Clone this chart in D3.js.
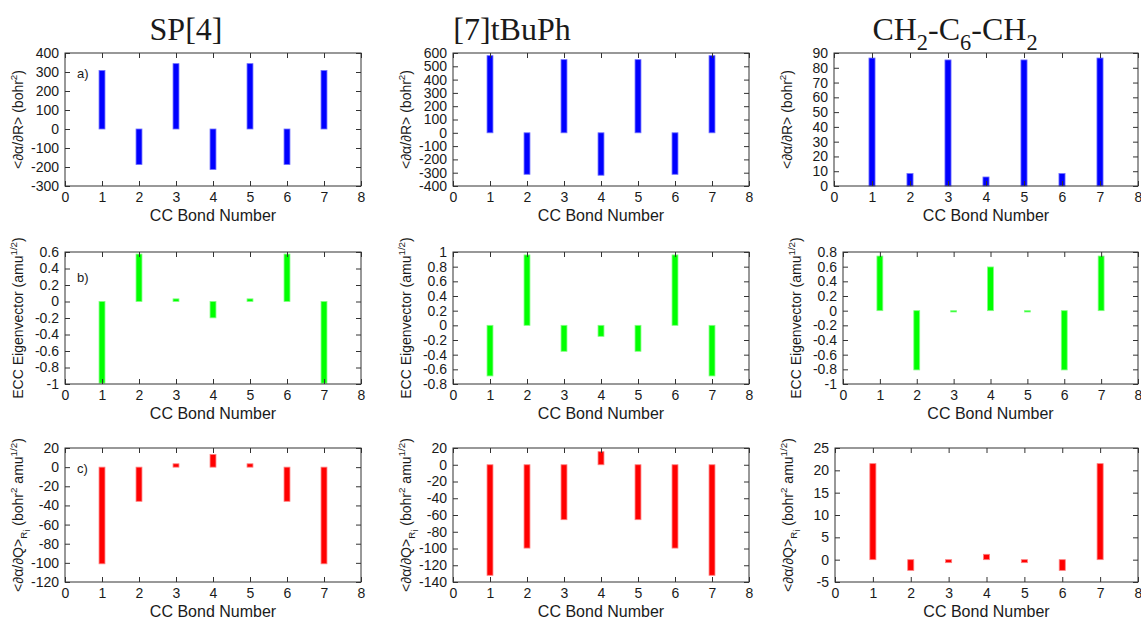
<!DOCTYPE html>
<html>
<head>
<meta charset="utf-8">
<script src="https://cdn.jsdelivr.net/npm/d3@7"></script>
<style>
  body { margin: 0; background: #fff; }
  text { font-family: "Liberation Sans", Arial, sans-serif; fill: #1a1a1a; }
  .title { font-family: "Liberation Serif", "DejaVu Serif", serif; }
</style>
</head>
<body>
<div id="main"></div>
<script>
// bond numbers + x ticks
const bonds = [1, 2, 3, 4, 5, 6, 7];
const xTicks = [0, 1, 2, 3, 4, 5, 6, 7, 8];

// a) polarizability derivative
const sp4Polar = [308, -187, 344, -213, 344, -187, 308];
const tbuPolar = [580, -312, 550, -319, 550, -312, 580];
const ch2Polar = [86.6, 8.4, 85.3, 6.1, 85.3, 8.4, 86.6];
// b) ECC eigenvector
const sp4Eigen = [-0.99, 0.575, 0.032, -0.198, 0.032, 0.575, -0.99];
const tbuEigen = [-0.69, 0.96, -0.354, -0.15, -0.354, 0.96, -0.69];
const ch2Eigen = [0.745, -0.808, -0.018, 0.596, -0.018, -0.808, 0.745];
// c) projected derivative
const sp4Deriv = [-101, -35.7, 3.5, 13.3, 3.5, -35.7, -101];
const tbuDeriv = [-132, -99.5, -65.6, 15.6, -65.6, -99.5, -132];
const ch2Deriv = [21.5, -2.4, -0.67, 1.2, -0.67, -2.4, 21.5];

// y tick labels
const sp4PolarTicks = [-300, -200, -100, 0, 100, 200, 300, 400];
const tbuPolarTicks = [-400, -300, -200, -100, 0, 100, 200, 300, 400, 500, 600];
const ch2PolarTicks = [0, 10, 20, 30, 40, 50, 60, 70, 80, 90];
const sp4EigenTicks = [-1, -0.8, -0.6, -0.4, -0.2, 0, 0.2, 0.4, 0.6];
const tbuEigenTicks = [-0.8, -0.6, -0.4, -0.2, 0, 0.2, 0.4, 0.6, 0.8, 1];
const ch2EigenTicks = [-1, -0.8, -0.6, -0.4, -0.2, 0, 0.2, 0.4, 0.6, 0.8];
const sp4DerivTicks = [-120, -100, -80, -60, -40, -20, 0, 20];
const tbuDerivTicks = [-140, -120, -100, -80, -60, -40, -20, 0, 20];
const ch2DerivTicks = [-5, 0, 5, 10, 15, 20, 25];

const rowColors = ["#0000ff", "#00ff00", "#ff0000"];
const rowEdge = ["#7070ff", "#80ff80", "#ff8080"];
const rowLetters = ["a)", "b)", "c)"];

const W = 1141, H = 619;

// layout (pixel boxes of each plot)
const colLeft = [[65, 453, 834], [65, 453, 843], [65, 453, 835]];
const colRight = [361, 749, 1138];
const rowTop = [53, 252, 448];
const rowBottom = [186, 384, 582];
const titleX = [186, 512, 955];
const letterDy = [25, 30, 25];

const panels = [
  {row: 0, col: 0, values: sp4Polar, ticks: sp4PolarTicks},
  {row: 0, col: 1, values: tbuPolar, ticks: tbuPolarTicks},
  {row: 0, col: 2, values: ch2Polar, ticks: ch2PolarTicks},
  {row: 1, col: 0, values: sp4Eigen, ticks: sp4EigenTicks},
  {row: 1, col: 1, values: tbuEigen, ticks: tbuEigenTicks},
  {row: 1, col: 2, values: ch2Eigen, ticks: ch2EigenTicks},
  {row: 2, col: 0, values: sp4Deriv, ticks: sp4DerivTicks},
  {row: 2, col: 1, values: tbuDeriv, ticks: tbuDerivTicks},
  {row: 2, col: 2, values: ch2Deriv, ticks: ch2DerivTicks}
];

// label pieces: [text, level]  level 1 = sup, -1 = sub, -2 = sub of sub
const yLabels = [
  [["<\u2202\u03b1/\u2202R> (bohr", 0], ["2", 1], [")", 0]],
  [["ECC Eigenvector (amu", 0], ["1/2", 1], [")", 0]],
  [["<\u2202\u03b1/\u2202Q>", 0], ["R", -1], ["i", -2], [" (bohr", 0], ["2", 1], [" amu", 0], ["1/2", 1], [")", 0]]
];
const titleParts = [
  [["SP[4]", 0]],
  [["[7]tBuPh", 0]],
  [["CH", 0], ["2", -1], ["-C", 0], ["6", -1], ["-CH", 0], ["2", -1]]
];

function richText(sel, parts, size) {
  let level = 0;
  const shift = {"1": -0.4, "0": 0, "-1": 0.3, "-2": 0.5};
  parts.forEach(function(p) {
    const dy = (shift[p[1]] - shift[level]) * size;
    sel.append("tspan")
      .attr("dy", dy)
      .style("font-size", (p[1] === 0 ? size : size * 0.7) + "px")
      .text(p[0]);
    level = p[1];
  });
}

const fmt = function(v) { return String(+v.toFixed(1)); };

const svg = d3.select("#main")
  .append("svg")
  .attr("width", W)
  .attr("height", H);

// column titles
titleParts.forEach(function(parts, i) {
  const t = svg.append("text")
    .attr("class", "title")
    .attr("x", titleX[i])
    .attr("y", 40)
    .attr("text-anchor", "middle")
    .style("font-size", "32px");
  richText(t, parts, 32);
});

panels.forEach(function(p) {
  const left = colLeft[p.row][p.col], right = colRight[p.col];
  const top = rowTop[p.row], bottom = rowBottom[p.row];

  const x = d3.scaleLinear().domain([0, 8]).range([left, right]);
  const y = d3.scaleLinear()
    .domain([p.ticks[0], p.ticks[p.ticks.length - 1]])
    .range([bottom, top]);

  const g = svg.append("g");

  // bars
  const bw = x(0.08) - x(0);
  g.selectAll("rect.bar")
    .data(p.values)
    .enter()
    .append("rect")
    .attr("class", "bar")
    .attr("x", function(d, i) { return x(bonds[i]) - bw; })
    .attr("width", bw * 2)
    .attr("y", function(d) { return y(Math.max(0, d)); })
    .attr("height", function(d) { return Math.abs(y(d) - y(0)); })
    .style("fill", rowColors[p.row])
    .style("stroke", rowEdge[p.row])
    .style("stroke-width", 0.8);

  // axes with inward ticks, mirrored
  const axes = [
    {a: d3.axisBottom(x).tickValues(xTicks).tickFormat(fmt), t: "translate(0," + bottom + ")"},
    {a: d3.axisTop(x).tickValues(xTicks).tickFormat(""), t: "translate(0," + top + ")"},
    {a: d3.axisLeft(y).tickValues(p.ticks).tickFormat(fmt), t: "translate(" + left + ",0)"},
    {a: d3.axisRight(y).tickValues(p.ticks).tickFormat(""), t: "translate(" + right + ",0)"}
  ];
  axes.forEach(function(ax) {
    const ag = g.append("g")
      .attr("transform", ax.t)
      .call(ax.a.tickSizeInner(-5).tickSizeOuter(0).tickPadding(6));
    ag.select(".domain").remove();
    ag.selectAll("line").attr("stroke", "#333");
    ag.selectAll("text")
      .style("font-size", "14px")
      .style("font-family", "'Liberation Sans', Arial, sans-serif")
      .attr("fill", "#1a1a1a");
  });

  // frame
  g.append("rect")
    .attr("x", left).attr("y", top)
    .attr("width", right - left).attr("height", bottom - top)
    .style("fill", "none")
    .style("stroke", "#333")
    .style("stroke-width", 1);

  // x label
  g.append("text")
    .attr("x", (left + right) / 2)
    .attr("y", bottom + 35)
    .attr("text-anchor", "middle")
    .style("font-size", "16px")
    .text("CC Bond Number");

  // y label
  const yl = g.append("text")
    .attr("transform", "translate(" + (left - 42) + "," + ((top + bottom) / 2) + ") rotate(-90)")
    .attr("text-anchor", "middle")
    .style("font-size", "14px");
  richText(yl, yLabels[p.row], 14);

  // panel letter
  if (p.col === 0) {
    g.append("text")
      .attr("x", left + 12)
      .attr("y", top + letterDy[p.row])
      .style("font-size", "13px")
      .text(rowLetters[p.row]);
  }
});
</script>
</body>
</html>
